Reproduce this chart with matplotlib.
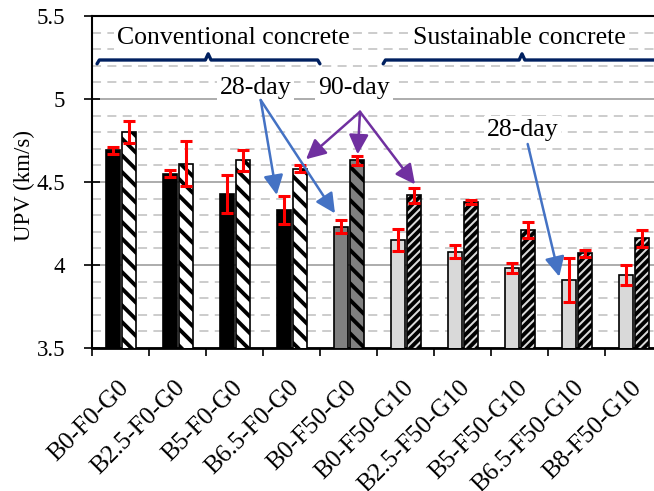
import matplotlib
matplotlib.use("Agg")
import matplotlib.pyplot as plt
import numpy as np
from matplotlib.ticker import MultipleLocator, FixedLocator
from matplotlib.transforms import ScaledTranslation

plt.rcParams['font.family'] = ['Liberation Serif', 'DejaVu Serif']
plt.rcParams['hatch.linewidth'] = 2.8

categories = ['B0-F0-G0', 'B2.5-F0-G0', 'B5-F0-G0', 'B6.5-F0-G0', 'B0-F50-G0',
              'B0-F50-G10', 'B2.5-F50-G10', 'B5-F50-G10', 'B6.5-F50-G10', 'B8-F50-G10']
upv_28 = [4.69, 4.55, 4.43, 4.33, 4.23, 4.15, 4.08, 3.98, 3.91, 3.94]
err_28 = [0.02, 0.02, 0.115, 0.085, 0.04, 0.065, 0.04, 0.03, 0.13, 0.062]
upv_90 = [4.80, 4.61, 4.63, 4.58, 4.63, 4.42, 4.38, 4.21, 4.07, 4.16]
err_90 = [0.065, 0.135, 0.063, 0.02, 0.027, 0.045, 0.013, 0.048, 0.02, 0.05]
color_28 = ['black'] * 4 + ['#808080'] + ['#d9d9d9'] * 5
color_90 = ['white'] * 4 + ['#808080'] + ['#d9d9d9'] * 5
hatch_90 = ['\\\\'] * 5 + ['////'] * 5
y_ticks = [3.5, 4, 4.5, 5, 5.5]
y_tick_labels = ['3.5', '4', '4.5', '5', '5.5']

fig = plt.figure(figsize=(6.54, 4.91), dpi=100)
ax = fig.add_axes([0.1414, 0.2912, 0.8716, 0.6762])

x = np.arange(len(categories))
off = 0.14
w = 0.25
ax.bar(x - off, upv_28, width=w, color=color_28, edgecolor='black', linewidth=1.2, zorder=3)
bars90 = ax.bar(x + off, upv_90, width=w, color=color_90, edgecolor='black', linewidth=1.2, zorder=3)
for b, h in zip(bars90, hatch_90):
    b.set_hatch(h)

ekw = dict(fmt='none', ecolor='red', elinewidth=2.2, capsize=4.3, capthick=2.2, zorder=5)
ax.errorbar(x - off, upv_28, yerr=err_28, **ekw)
ax.errorbar(x + off, upv_90, yerr=err_90, **ekw)

ax.set_xlim(-0.5, len(categories) - 0.5)
ax.set_ylim(3.5, 5.5)

# y axis
ax.set_yticks(y_ticks)
ax.set_yticklabels(y_tick_labels, fontsize=16.5)
ax.yaxis.set_minor_locator(MultipleLocator(0.1))
ax.tick_params(axis='y', which='major', direction='inout', length=11, width=1.2, pad=14)
ax.tick_params(axis='y', which='minor', length=0)
ax.grid(axis='y', which='major', color='#a6a6a6', linewidth=1.3, zorder=0)
ax.grid(axis='y', which='minor', color='#c8c8c8', linewidth=1.3, linestyle=(0, (5, 3.5)), zorder=0)
ax.set_axisbelow(True)

# x axis
ax.xaxis.set_major_locator(FixedLocator(np.arange(len(categories) + 1) - 0.5))
ax.xaxis.set_minor_locator(FixedLocator(x))
ax.set_xticklabels([], minor=False)
ax.set_xticklabels(categories, minor=True, rotation=45, ha='right', va='center',
                   rotation_mode='anchor', fontsize=18.2)
ax.tick_params(axis='x', which='major', direction='out', length=6, width=1.2)
ax.tick_params(axis='x', which='minor', length=0, pad=26)
shift = ScaledTranslation(4 / 100, 0, fig.dpi_scale_trans)
for lbl in ax.get_xticklabels(minor=True):
    lbl.set_transform(lbl.get_transform() + shift)

for s in ['left', 'bottom', 'top']:
    ax.spines[s].set_linewidth(1.5)
    ax.spines[s].set_color('black')
ax.spines['bottom'].set_linewidth(2)
ax.spines['right'].set_visible(False)

ax.set_ylabel('UPV (km/s)', fontsize=16.5)
ax.yaxis.set_label_coords(-0.1, 0.49)

# group braces
brace_c = '#002060'
def brace(x0, x1, xm):
    yl, ye, yp = 5.235, 5.212, 5.272
    ax.plot([x0, x0 + 0.04, xm - 0.05, xm, xm + 0.05, x1 - 0.04, x1],
            [ye, yl, yl, yp, yl, yl, ye], color=brace_c, lw=2.4,
            solid_capstyle='round', solid_joinstyle='round', clip_on=False, zorder=6)
brace(-0.42, 3.49, 1.53)
brace(4.6, 9.47, 7.035)

tb = dict(boxstyle='square,pad=0.12', fc='white', ec='none')
ax.text(1.965, 5.37, 'Conventional concrete', fontsize=18.5, ha='center', va='center', bbox=tb, zorder=7)
ax.text(6.99, 5.37, 'Sustainable concrete', fontsize=18.5, ha='center', va='center', bbox=tb, zorder=7)
ax.text(2.36, 5.066, '28-day', fontsize=18.5, ha='center', va='center', bbox=tb, zorder=7)
ax.text(4.088, 5.066, '90-day', fontsize=18.5, ha='center', va='center', bbox=tb, zorder=7)
ax.text(7.044, 4.813, '28-day', fontsize=18.5, ha='center', va='center', bbox=tb, zorder=7)

blue = '#4472C4'
purple = '#7030A0'
def arrow(start, tip, c):
    ax.annotate('', xy=tip, xytext=start,
                arrowprops=dict(arrowstyle='-|>,head_length=0.7,head_width=0.35',
                                color=c, lw=1.8, mutation_scale=17, shrinkA=0, shrinkB=0),
                zorder=8)
arrow((2.451, 4.994), (2.732, 4.422), blue)
arrow((2.451, 4.994), (3.754, 4.311), blue)
arrow((4.193, 4.923), (3.246, 4.637), purple)
arrow((4.193, 4.923), (4.153, 4.667), purple)
arrow((4.193, 4.923), (5.158, 4.486), purple)
arrow((7.135, 4.729), (7.689, 3.930), blue)

fig.savefig('out.png', dpi=100)
